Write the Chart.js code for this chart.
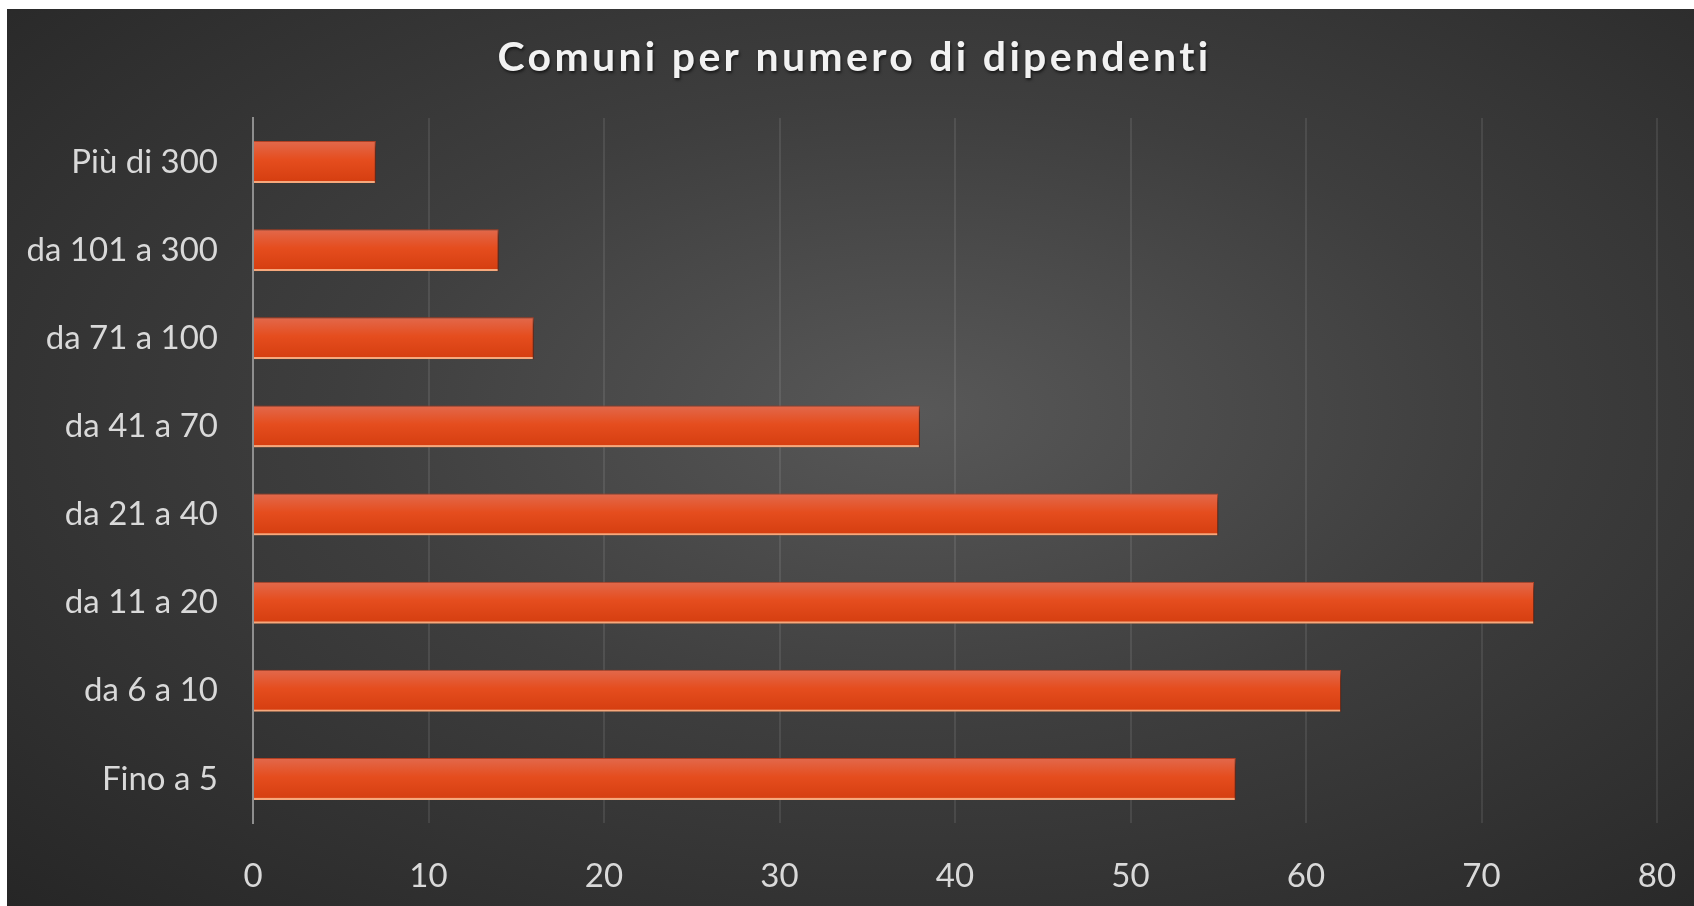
<!DOCTYPE html>
<html lang="it">
<head>
<meta charset="utf-8">
<title>Comuni per numero di dipendenti</title>
<script src="https://cdn.jsdelivr.net/npm/chart.js@4.4.1/dist/chart.umd.min.js"></script>
<style>
  html, body { margin: 0; padding: 0; background: #ffffff; }
  #wrap {
    position: absolute;
    left: 7px; top: 9px;
    width: 1687px; height: 897px;
    background: radial-gradient(ellipse farthest-corner at 54% 45%, #585858 0%, #3e3e3e 45%, #262626 100%);
  }
</style>
</head>
<body>
<div id="wrap"><canvas id="chart"></canvas></div>
<script>
// --- Dati ---
const titleText = 'Comuni per numero di dipendenti';
const categories = ['Fino a 5', 'da 6 a 10', 'da 11 a 20', 'da 21 a 40', 'da 41 a 70', 'da 71 a 100', 'da 101 a 300', 'Più di 300'];
const comuni = [56, 62, 73, 55, 38, 16, 14, 7];
const xTicks = [0, 10, 20, 30, 40, 50, 60, 70, 80];

const BAR_PCT = 0.477;

// gradiente verticale per ogni barra
function barGradient(context) {
    const chart = context.chart;
    const yScale = chart.scales && chart.scales.y;
    if (!yScale || context.dataIndex === undefined) return '#e34d1f';
    const c = yScale.getPixelForValue(context.dataIndex);
    const half = (yScale.height / categories.length) * BAR_PCT / 2;
    if (!isFinite(c) || !isFinite(half) || half <= 0) return '#e34d1f';
    const g = chart.ctx.createLinearGradient(0, c - half, 0, c + half);
    g.addColorStop(0, '#e2694c');
    g.addColorStop(0.45, '#e54d1e');
    g.addColorStop(0.94, '#d63f11');
    g.addColorStop(0.955, '#f6a87c');
    g.addColorStop(1, '#f6a87c');
    return g;
}

// ombra delle barre
const barShadow = {
    id: 'barShadow',
    beforeDatasetsDraw(chart) {
        const ctx = chart.ctx;
        ctx.save();
        ctx.shadowColor = 'rgba(0, 0, 0, 0.55)';
        ctx.shadowBlur = 6;
        ctx.shadowOffsetX = 3;
        ctx.shadowOffsetY = 3;
    },
    afterDatasetsDraw(chart) {
        chart.ctx.restore();
    }
};

// titolo con spaziatura e ombra
const titlePlugin = {
    id: 'titolo',
    afterDraw(chart) {
        const ctx = chart.ctx;
        ctx.save();
        ctx.font = 'bold 41px Lato';
        if ('letterSpacing' in ctx) ctx.letterSpacing = '3.3px';
        ctx.textAlign = 'center';
        ctx.textBaseline = 'middle';
        ctx.shadowColor = 'rgba(0, 0, 0, 0.6)';
        ctx.shadowBlur = 3;
        ctx.shadowOffsetX = 1;
        ctx.shadowOffsetY = 2;
        ctx.fillStyle = '#f2f2f2';
        ctx.fillText(titleText, chart.width / 2 + 4, 49);
        ctx.restore();
    }
};

new Chart(document.getElementById('chart'), {
    type: 'bar',
    data: {
        labels: categories,
        datasets: [{
            label: 'Comuni',
            data: comuni,
            backgroundColor: barGradient,
            borderColor: '#bf4526',
            borderWidth: { top: 1, right: 1, bottom: 0, left: 0 },
            borderSkipped: 'start',
            barPercentage: BAR_PCT,
            categoryPercentage: 1
        }]
    },
    options: {
        indexAxis: 'y',
        responsive: true,
        maintainAspectRatio: false,
        animation: false,
        layout: { padding: { top: 109, right: 37, bottom: 0, left: 0 } },
        plugins: {
            legend: { display: false },
            title: { display: false },
            tooltip: { enabled: false }
        },
        scales: {
            x: {
                min: 0,
                max: 80,
                afterFit: s => { s.height = 83; },
                afterBuildTicks: s => { s.ticks = xTicks.map(v => ({ value: v })); },
                grid: {
                    color: 'rgba(255, 255, 255, 0.09)',
                    lineWidth: 2,
                    drawTicks: true,
                    tickLength: 34,
                    tickColor: 'rgba(0, 0, 0, 0)'
                },
                border: { display: false },
                ticks: {
                    color: '#d9d9d9',
                    font: { family: 'Lato', size: 33 },
                    padding: 0,
                    maxRotation: 0
                }
            },
            y: {
                reverse: true,
                afterFit: s => { s.width = 246; },
                grid: { display: false, drawTicks: false },
                border: { display: true, color: '#8e8e8e', width: 2 },
                ticks: {
                    color: '#d9d9d9',
                    font: { family: 'Lato', size: 33 },
                    padding: 35
                }
            }
        }
    },
    plugins: [barShadow, titlePlugin]
});
</script>
</body>
</html>
